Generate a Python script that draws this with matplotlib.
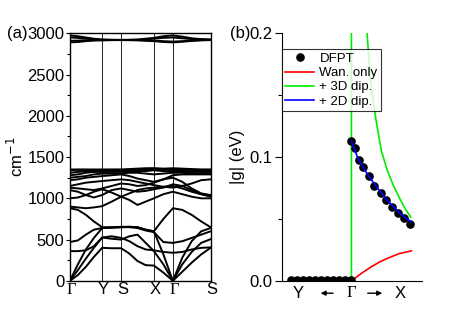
import numpy as np
import matplotlib
matplotlib.use("Agg")
import matplotlib.pyplot as plt
from matplotlib.ticker import MultipleLocator

plt.rcParams['font.family'] = ['Liberation Sans', 'DejaVu Sans']

# ---------------- panel (a): phonon bands ----------------
# path coordinate of the sampled k-points (G-Y-S-X-G-S)
kpath = [0, 8, 16, 24, 32.3, 41.8, 51.3, 59.5, 67.6, 75.8, 84, 93.5, 103, 112.4, 121.8, 131.3, 140.7]
kpt_pos = [0, 32.3, 51.3, 84, 103, 140.7]
kpt_labels = ['\u0393', 'Y', 'S', 'X', '\u0393', 'S']
freq_ticks = [0, 500, 1000, 1500, 2000, 2500, 3000]

bands = [
    [0, 70, 170, 290, 400, 395, 395, 330, 240, 190, 185, 100, 0, 110, 220, 320, 400],
    [0, 130, 270, 400, 525, 510, 500, 540, 560, 460, 360, 200, 0, 200, 350, 460, 505],
    [0, 200, 380, 520, 640, 645, 650, 655, 650, 620, 600, 320, 0, 280, 480, 600, 640],
    [360, 360, 370, 420, 525, 540, 520, 480, 420, 380, 370, 350, 340, 350, 380, 400, 405],
    [470, 490, 560, 620, 640, 645, 650, 650, 640, 610, 590, 470, 460, 480, 520, 560, 600],
    [880, 860, 800, 720, 650, 650, 655, 655, 650, 620, 600, 750, 880, 860, 800, 720, 650],
    [900, 890, 880, 890, 905, 960, 1020, 980, 920, 960, 1000, 1050, 1080, 1050, 1020, 1000, 1000],
    [1000, 1010, 1040, 1080, 1110, 1070, 1020, 1060, 1100, 1120, 1130, 1140, 1150, 1120, 1080, 1050, 1030],
    [1100, 1080, 1040, 1010, 1040, 1100, 1120, 1100, 1080, 1090, 1110, 1130, 1170, 1150, 1100, 1050, 1020],
    [1130, 1120, 1110, 1100, 1120, 1150, 1180, 1170, 1150, 1160, 1190, 1230, 1250, 1200, 1120, 1060, 1040],
    [1150, 1170, 1190, 1200, 1210, 1220, 1230, 1220, 1200, 1180, 1160, 1140, 1130, 1150, 1180, 1220, 1230],
    [1220, 1230, 1250, 1260, 1270, 1280, 1290, 1270, 1240, 1220, 1200, 1230, 1280, 1290, 1290, 1290, 1290],
    [1250, 1260, 1270, 1290, 1300, 1300, 1300, 1310, 1310, 1300, 1290, 1300, 1310, 1310, 1300, 1300, 1300],
    [1280, 1290, 1310, 1320, 1320, 1320, 1320, 1320, 1330, 1330, 1340, 1330, 1320, 1320, 1320, 1320, 1320],
    [1310, 1320, 1330, 1330, 1330, 1335, 1340, 1340, 1340, 1345, 1350, 1345, 1340, 1335, 1330, 1330, 1330],
    [1340, 1345, 1345, 1340, 1340, 1345, 1345, 1345, 1350, 1355, 1360, 1355, 1355, 1350, 1345, 1345, 1345],
    [1350, 1350, 1350, 1350, 1350, 1350, 1350, 1355, 1360, 1365, 1365, 1360, 1365, 1360, 1355, 1350, 1350],
    [2975, 2965, 2950, 2935, 2925, 2922, 2920, 2922, 2925, 2935, 2945, 2965, 2975, 2960, 2940, 2930, 2925],
    [2950, 2945, 2935, 2928, 2922, 2920, 2920, 2920, 2922, 2928, 2935, 2945, 2950, 2940, 2930, 2925, 2922],
    [2910, 2912, 2915, 2918, 2918, 2919, 2920, 2919, 2918, 2915, 2912, 2905, 2900, 2905, 2912, 2918, 2920],
    [2890, 2895, 2905, 2912, 2915, 2917, 2918, 2917, 2915, 2910, 2905, 2895, 2890, 2898, 2908, 2915, 2918],
]

# ---------------- panel (b): |g| along Y <- G -> X ----------------
g_ticks = [0.0, 0.1, 0.2]

dfpt_x = [-1.0, -0.9, -0.8, -0.7, -0.6, -0.5, -0.4, -0.3, -0.2, -0.1, 0.0,
          0.0, 0.06, 0.13, 0.19, 0.29, 0.38, 0.49, 0.575, 0.67, 0.77, 0.875, 0.975]
dfpt_g = [0.001] * 11 + [0.113, 0.107, 0.098, 0.092, 0.0846, 0.077, 0.071, 0.065, 0.060, 0.055, 0.051, 0.046]

wan_x = [-1.0, 0.0, 0.16, 0.32, 0.48, 0.64, 0.8, 1.0]
wan_g = [0.0, 0.0, 0.0058, 0.011, 0.0155, 0.019, 0.022, 0.0242]

dip3d_x = [-1.0, 0.0, 0.0, 0.26, 0.33, 0.41, 0.5, 0.6, 0.7, 0.8, 0.9, 0.99]
dip3d_g = [0.0, 0.0, 1.0, 0.2, 0.157, 0.130, 0.105, 0.089, 0.077, 0.067, 0.058, 0.0515]

dip2d_x = [0.0, 0.1, 0.2, 0.3, 0.4, 0.5, 0.6, 0.7, 0.8, 0.9, 1.0]
dip2d_g = [0.113, 0.100, 0.091, 0.084, 0.077, 0.071, 0.065, 0.060, 0.055, 0.051, 0.0477]

SERIF = ['Liberation Serif', 'DejaVu Serif']

fig = plt.figure(figsize=(4.69, 3.30), dpi=100)

# (a)
ax1 = fig.add_axes([0.149, 0.149, 0.300, 0.750])
for b in bands:
    ax1.plot(kpath, b, color='black', lw=1.4)
for k in kpt_pos[1:-1]:
    ax1.axvline(k, color='black', lw=0.6)
ax1.set_xlim(0, kpt_pos[-1])
ax1.set_ylim(0, 3000)
ax1.set_xticks([])
ax1.set_yticks(freq_ticks)
ax1.set_yticklabels([str(t) for t in freq_ticks])
ax1.yaxis.set_minor_locator(MultipleLocator(250))
ax1.tick_params(axis='y', which='major', direction='out', length=3, width=0.8, pad=1, labelsize=12)
ax1.tick_params(axis='y', which='minor', direction='out', length=2, width=0.8)
for s in ax1.spines.values():
    s.set_linewidth(1.0)
ax1.set_ylabel('cm$^{-1}$', fontsize=12)
ax1.yaxis.set_label_coords(-0.31, 0.5)
trans1 = ax1.get_xaxis_transform()
for k, lab in zip(kpt_pos, kpt_labels):
    fam = SERIF if lab == '\u0393' else ['Liberation Sans', 'DejaVu Sans']
    ax1.text(k + 1.5, -0.037, lab, transform=trans1, ha='center', va='center',
             fontsize=12, family=fam)
fig.text(0.014, 0.899, '(a)', fontsize=12, va='center')

# (b)
ax2 = fig.add_axes([0.601, 0.149, 0.2985, 0.750])
ax2.plot(dfpt_x, dfpt_g, 'o', color='black', ms=5.2, label='DFPT', zorder=3)
ax2.plot(dip3d_x, dip3d_g, color='#00ee00', lw=1.2, label='+ 3D dip.', zorder=2)
ax2.plot(wan_x, wan_g, color='red', lw=1.2, label='Wan. only', zorder=2)
ax2.plot(dip2d_x, dip2d_g, color='blue', lw=1.2, label='+ 2D dip.', zorder=4)
ax2.set_xlim(-1.16, 1.175)
ax2.set_ylim(0, 0.2)
ax2.set_xticks([])
ax2.set_yticks(g_ticks)
ax2.set_yticklabels(['%.1f' % t for t in g_ticks])
ax2.yaxis.set_minor_locator(MultipleLocator(0.05))
ax2.tick_params(axis='y', which='major', direction='out', length=5, width=0.8, pad=1.5, labelsize=12)
ax2.tick_params(axis='y', which='minor', direction='out', length=3, width=0.8)
ax2.spines['top'].set_visible(False)
ax2.spines['right'].set_visible(False)
ax2.set_ylabel('|g| (eV)', fontsize=12)
ax2.yaxis.set_label_coords(-0.265, 0.5)

h, l = ax2.get_legend_handles_labels()
order = [0, 2, 1, 3]
leg = ax2.legend([h[i] for i in order], [l[i] for i in order], loc='upper left',
                 bbox_to_anchor=(0.0, 0.935), fontsize=9.5, frameon=True, fancybox=False,
                 borderpad=0.25, labelspacing=0.15, handlelength=2.2, handletextpad=0.4,
                 borderaxespad=0)
leg.get_frame().set_edgecolor('black')
leg.get_frame().set_linewidth(0.8)

trans2 = ax2.get_xaxis_transform()
ax2.text(-0.89, -0.05, 'Y', transform=trans2, ha='center', va='center', fontsize=12)
ax2.text(0.0, -0.05, '\u0393', transform=trans2, ha='center', va='center', fontsize=12,
         family=SERIF)
ax2.text(0.81, -0.05, 'X', transform=trans2, ha='center', va='center', fontsize=12)
ax2.annotate('', xy=(-0.56, -0.05), xytext=(-0.26, -0.05), xycoords=trans2, textcoords=trans2,
             arrowprops=dict(arrowstyle='-|>', color='black', lw=1.0, mutation_scale=7))
ax2.annotate('', xy=(0.56, -0.05), xytext=(0.225, -0.05), xycoords=trans2, textcoords=trans2,
             arrowprops=dict(arrowstyle='-|>', color='black', lw=1.0, mutation_scale=7))
fig.text(0.490, 0.899, '(b)', fontsize=12, va='center')

fig.savefig('out.png', dpi=100)
